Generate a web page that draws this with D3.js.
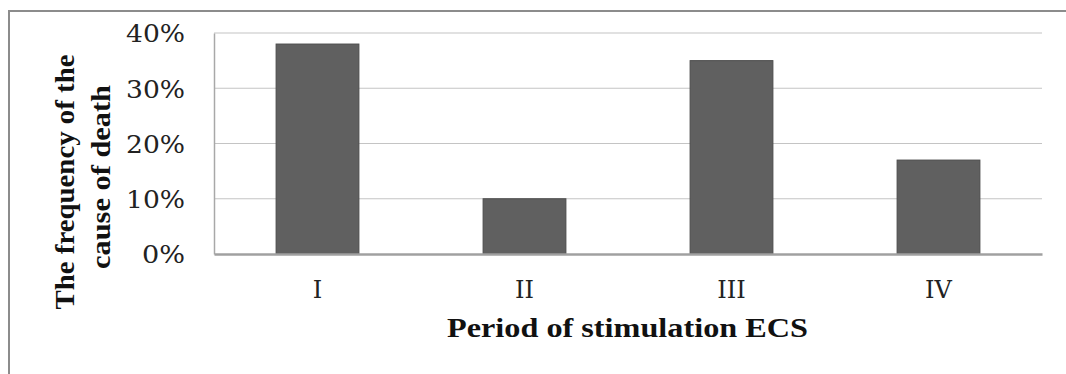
<!DOCTYPE html>
<html><head><meta charset="utf-8">
<script src="https://cdn.jsdelivr.net/npm/d3@7/dist/d3.min.js"></script>
<style>html,body{margin:0;padding:0;background:#fff;}svg{display:block;}</style>
</head><body>
<svg id="chart" width="1066" height="374"></svg>
<script>
const categories = ["I", "II", "III", "IV"];
const values = [0.38, 0.10, 0.35, 0.17];
const yTicks = [0, 0.1, 0.2, 0.3, 0.4];
const xTitle = "Period of stimulation ECS";
const yTitleLines = ["The frequency of the", "cause of death"];

const svg = d3.select("#chart");
const W = 1066, H = 374;
const plot = {left: 214, right: 1042, top: 33, bottom: 254};

// outer border (top and left visible)
svg.append("path")
  .attr("d", `M9,${H} L9,11 L${W},11`)
  .attr("fill", "none").attr("stroke", "#8c8c8c").attr("stroke-width", 2);

const x = d3.scaleBand().domain(categories).range([plot.left, plot.right])
  .paddingInner(0.6).paddingOuter(0.3);
const y = d3.scaleLinear().domain([0, 0.4]).range([plot.bottom, plot.top]);

// gridlines
svg.append("g").selectAll("line").data(yTicks.filter(d => d > 0)).join("line")
  .attr("x1", plot.left).attr("x2", plot.right)
  .attr("y1", d => y(d)).attr("y2", d => y(d))
  .attr("stroke", "#c4c4c4").attr("stroke-width", 1.2);

// y axis
const yAxis = svg.append("g").attr("transform", `translate(${plot.left},0)`)
  .call(d3.axisLeft(y).tickValues(yTicks).tickFormat(d3.format(".0%")).tickSize(0).tickPadding(29));
yAxis.select(".domain").attr("stroke", "#a8a8a8").attr("stroke-width", 1.5);
yAxis.selectAll("text").attr("font-family", "DejaVu Serif").attr("font-size", 25)
  .attr("fill", "#222").attr("dy", "0.35em")
  .attr("textLength", d => d === 0 ? 43 : 59).attr("lengthAdjust", "spacingAndGlyphs");

// bars
svg.append("g").selectAll("rect").data(values).join("rect")
  .attr("x", (d, i) => x(categories[i]))
  .attr("width", x.bandwidth())
  .attr("y", d => y(d))
  .attr("height", d => y(0) - y(d))
  .attr("fill", "#606060").attr("stroke", "#4c4c4c").attr("stroke-width", 1);

// x axis
const xAxis = svg.append("g").attr("transform", `translate(0,${plot.bottom})`)
  .call(d3.axisBottom(x).tickSize(0).tickPadding(27));
xAxis.select(".domain").attr("stroke", "#a0a0a0").attr("stroke-width", 2.5);
xAxis.selectAll("text").attr("font-family", "DejaVu Serif").attr("font-size", 24)
  .attr("fill", "#222");

// x title
svg.append("text").attr("x", 447).attr("y", 337)
  .attr("font-family", "Liberation Serif").attr("font-weight", "bold")
  .attr("font-size", 28).attr("fill", "#111")
  .attr("textLength", 361).attr("lengthAdjust", "spacingAndGlyphs").text(xTitle);

// y title
const yt = svg.append("text").attr("transform", "rotate(-90)")
  .attr("text-anchor", "middle").attr("font-family", "Liberation Serif").attr("font-weight", "bold")
  .attr("font-size", 28).attr("fill", "#111");
const yLens = [255, 184];
const yCenters = [182, 177];
yt.selectAll("tspan").data(yTitleLines).join("tspan")
  .attr("x", (d, i) => -yCenters[i]).attr("y", (d, i) => 74 + i * 36)
  .attr("textLength", (d, i) => yLens[i]).attr("lengthAdjust", "spacingAndGlyphs")
  .text(d => d);
</script>
</body></html>
